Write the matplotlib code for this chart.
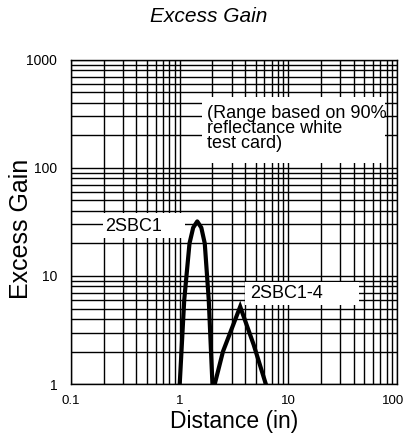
import matplotlib
matplotlib.use("Agg")
import matplotlib.pyplot as plt
from matplotlib.patches import Rectangle
from matplotlib.transforms import ScaledTranslation
from matplotlib.ticker import LogLocator, FixedLocator, FixedFormatter, NullFormatter

# data
dist_2sbc1 = [1.0, 1.1, 1.23, 1.33, 1.45, 1.58, 1.7, 1.85, 2.0]
gain_2sbc1 = [1, 6, 20, 28, 32, 28, 20, 6, 1]

dist_2sbc1_4 = [2.1, 2.5, 3.6, 4.8, 6.2]
gain_2sbc1_4 = [1, 2, 5.2, 2.3, 1]

x_ticks = [0.1, 1, 10, 100]
x_tick_labels = ["0.1", "1", "10", "100"]
y_ticks = [1, 10, 100, 1000]
y_tick_labels = ["1", "10", "100", "1000"]

plt.rcParams['font.family'] = ['Liberation Sans', 'DejaVu Sans']

fig = plt.figure(figsize=(4.06, 4.43), dpi=100)
ax = fig.add_axes([0.175, 0.133, 0.803, 0.732])

ax.set_xscale("log")
ax.set_yscale("log")
ax.set_xlim(0.1, 100)
ax.set_ylim(1, 1000)

# full black grid, major and minor
for axis in (ax.xaxis, ax.yaxis):
    axis.set_minor_locator(LogLocator(base=10, subs=range(2, 10)))
    axis.set_minor_formatter(NullFormatter())
ax.xaxis.set_major_locator(FixedLocator(x_ticks))
ax.xaxis.set_major_formatter(FixedFormatter(x_tick_labels))
ax.yaxis.set_major_locator(FixedLocator(y_ticks))
ax.yaxis.set_major_formatter(FixedFormatter(y_tick_labels))
ax.grid(True, which="both", color="black", linewidth=1.0)
ax.tick_params(which="both", length=0)
ax.tick_params(axis="x", labelsize=9.5, pad=8)
ax.tick_params(axis="y", labelsize=10, pad=10)
for s in ax.spines.values():
    s.set_color("black")
    s.set_linewidth(1.0)

# keep the last x label inside the figure
last = ax.xaxis.get_major_ticks()[-1].label1
last.set_transform(last.get_transform() +
                   ScaledTranslation(-0.04, 0, fig.dpi_scale_trans))

# white label boxes over the grid
boxes = [(0.098, 0.451, 0.252, 0.077),
         (0.534, 0.244, 0.349, 0.071),
         (0.402, 0.682, 0.561, 0.204)]
for bx, by, bw, bh in boxes:
    ax.add_patch(Rectangle((bx, by), bw, bh, transform=ax.transAxes,
                           facecolor="white", edgecolor="none", zorder=2.5))

ax.plot(dist_2sbc1, gain_2sbc1, color="black", linewidth=3, zorder=3,
        solid_joinstyle="round")
ax.plot(dist_2sbc1_4, gain_2sbc1_4, color="black", linewidth=3, zorder=3,
        solid_joinstyle="miter")

ax.text(0.104, 0.485, "2SBC1", transform=ax.transAxes, fontsize=13,
        va="center", ha="left", zorder=4)
ax.text(0.549, 0.278, "2SBC1-4", transform=ax.transAxes, fontsize=13,
        va="center", ha="left", zorder=4)
ax.text(0.417, 0.861, "(Range based on 90%\nreflectance white\ntest card)",
        transform=ax.transAxes, fontsize=13, va="top", ha="left",
        linespacing=0.85, zorder=4)

ax.set_xlabel("Distance (in)", fontsize=16.5, labelpad=2)
ax.set_ylabel("Excess Gain", fontsize=18)
ax.yaxis.set_label_coords(-0.117, 0.48)
fig.text(0.515, 1 - 17 / 443, "Excess Gain", fontsize=15, style="italic",
         ha="center", va="center")

fig.savefig("out.png", dpi=100)
